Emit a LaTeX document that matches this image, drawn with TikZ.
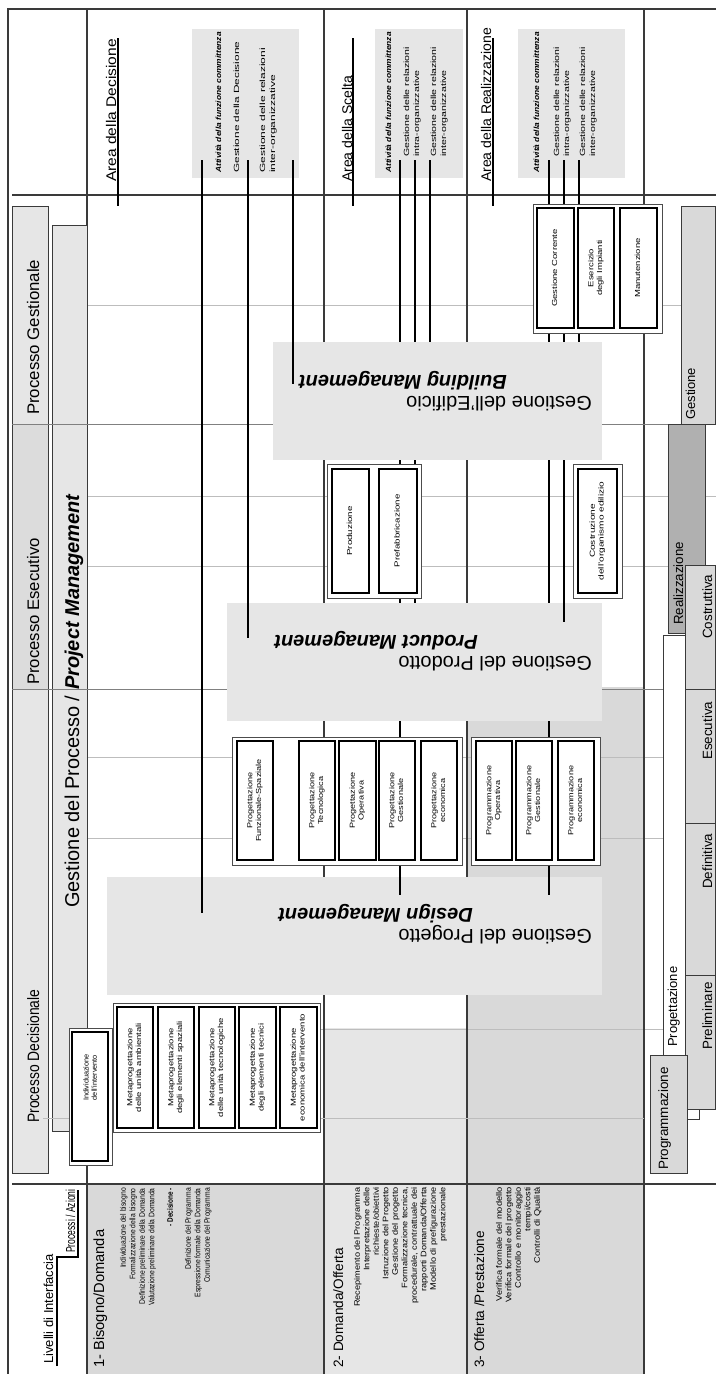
\documentclass[tikz,border=0pt]{standalone}
\usepackage{fontspec}
\setmainfont{Liberation Sans}
\usepackage{graphicx}
\definecolor{lgray}{HTML}{E6E6E6}
\definecolor{mgray}{HTML}{D9D9D9}
\definecolor{egray}{HTML}{DCDCDC}
\definecolor{dgray}{HTML}{B0B0B0}
\definecolor{gridc}{HTML}{BDBDBD}
\definecolor{pline}{HTML}{808080}
\definecolor{framec}{HTML}{3A3A3A}
\newcommand\fsz[2]{\fontsize{#1}{#2}\selectfont}
\newcommand\tx[3]{\scalebox{#1}[1]{\begin{tabular}{@{}#2@{}}#3\end{tabular}}}
% box given by its two page corners; text runs bottom to top
\newcommand\boxat[7]{%
  \pgfmathsetmacro\bxw{abs(#6-#4)}%
  \pgfmathsetmacro\bxh{abs(#5-#3)}%
  \node[rotate=90,#1,minimum width=\bxw pt,minimum height=\bxh pt] (#2) at ({(#3+#5)/2},{(#4+#6)/2}) {#7};}
\tikzset{
  vt/.style={rotate=90,inner sep=0pt},
  ut/.style={rotate=180,inner sep=0pt},
  frame/.style={draw=framec,line width=1.1pt},
  grid/.style={draw=gridc,line width=0.9pt},
  pl/.style={draw=pline,line width=1pt},
  conn/.style={draw=black,line width=1.1pt},
  pbox/.style={draw=framec,line width=1pt,inner sep=0pt},
  cont/.style={draw=black!70,line width=0.9pt,fill=white,inner sep=0pt},
  ibox/.style={draw=black,line width=1.1pt,fill=white,inner sep=0pt,font=\fsz{7.3}{8.6}},
  mgmt/.style={fill=lgray,inner sep=0pt},
  phase/.style={draw=framec,line width=0.9pt,inner sep=0pt},
}
\begin{document}
\begin{tikzpicture}[x=1pt,y=-1pt]
\useasboundingbox[fill=white] (0,0) rectangle (716,1374);

% ---- band backgrounds
\fill[mgray] (87,1184) rectangle (324,1374);
\fill[lgray] (324,1028) rectangle (467,1374);
\fill[mgray] (467,687) rectangle (644,1374);

% ---- grid
\foreach \y in {305,496,566,757,838,1029} \draw[grid] (87,\y) -- (716,\y);

% ---- frame and band separators
\draw[frame] (716,9) -- (8,9) -- (8,1374);
\draw[frame] (12,195) -- (716,195);
\draw[frame] (12,1184) -- (716,1184);
\foreach \x in {87,324,467,644} \draw[frame] (\x,9) -- (\x,1374);

% ---- process headers
\boxat{pbox,fill=lgray}{pg}{12.7}{206}{48}{424}{}
\boxat{pbox,fill=egray}{pe}{12.7}{424}{48}{689}{}
\boxat{pbox,fill=lgray}{pd}{12.7}{689}{48}{1173}{}
\boxat{pbox,fill=lgray}{gp}{52}{225}{87}{1131}{}
\draw[pl] (12,424) -- (716,424);
\draw[pl] (12,689) -- (716,689);
\draw[grid] (43,1118) -- (644,1118);

% ---- attivita boxes
\boxat{mgmt}{att1}{192}{29}{299}{178}{}
\boxat{mgmt}{att2}{375}{29}{463}{178}{}
\boxat{mgmt}{att3}{518}{29}{625}{178}{}

% ---- connectors running under the boxes
\coordinate (s400) at (400,160); \coordinate (e400) at (400,895);
\coordinate (s415) at (415,160); \coordinate (e415) at (415,603);
\coordinate (s430) at (430,160); \coordinate (e430) at (430,342);
\coordinate (s549) at (549,160); \coordinate (e549) at (549,895);
\coordinate (s564) at (564,160); \coordinate (e564) at (564,622);
\coordinate (s579) at (579,160); \coordinate (e579) at (579,342);
\foreach \n in {400,415,430,549,564,579} \draw[conn] (s\n) -- (e\n);

% ---- management boxes
\boxat{mgmt}{dm}{107}{877}{602}{995}{}
\boxat{mgmt}{pm}{227}{603}{602}{721}{}
\boxat{mgmt}{bm}{273}{342}{602}{460}{}

% ---- Individuazione
\boxat{cont}{indo}{69}{1028}{112}{1165}{}
\boxat{ibox}{ind}{72}{1032}{108}{1161}{}

% ---- Metaprogettazione
\boxat{cont}{metac}{113}{1003}{320}{1132}{}
\boxat{ibox}{m1}{117}{1007}{153}{1128}{\tx{1.3}{c}{Metaprogettazione\\delle unità ambientali}}
\boxat{ibox}{m2}{158}{1007}{194}{1128}{\tx{1.3}{c}{Metaprogettazione\\degli elementi spaziali}}
\boxat{ibox}{m3}{199}{1007}{235}{1128}{\tx{1.3}{c}{Metaprogettazione\\delle unità tecnologiche}}
\boxat{ibox}{m4}{239}{1007}{276}{1128}{\tx{1.3}{c}{Metaprogettazione\\degli elementi tecnici}}
\boxat{ibox}{m5}{280}{1007}{317}{1128}{\tx{1.3}{c}{Metaprogettazione\\economica dell'intervento}}

% ---- Progettazione
\boxat{cont}{progc}{232}{737}{462}{865}{}
\boxat{ibox}{p1}{237}{741}{273}{860}{\tx{1.25}{c}{Progettazione\\Funzionale-Spaziale}}
\boxat{ibox}{p2}{299}{741}{335}{860}{\tx{1.25}{c}{Progettazione\\Tecnologica}}
\boxat{ibox}{p3}{339}{741}{376}{860}{\tx{1.25}{c}{Progettazione\\Operativa}}
\boxat{ibox}{p4}{379}{741}{415}{860}{\tx{1.25}{c}{Progettazione\\Gestionale}}
\boxat{ibox}{p5}{421}{741}{457}{860}{\tx{1.25}{c}{Progettazione\\economica}}

% ---- Programmazione
\boxat{cont}{pragc}{471}{737}{600}{865}{}
\boxat{ibox}{q1}{476}{741}{512}{860}{\tx{1.25}{c}{Programmazione\\Operativa}}
\boxat{ibox}{q2}{516}{741}{552}{860}{\tx{1.25}{c}{Programmazione\\Gestionale}}
\boxat{ibox}{q3}{558}{741}{594}{860}{\tx{1.25}{c}{Programmazione\\economica}}

% ---- Produzione
\boxat{cont}{prodc}{327}{464}{421}{598}{}
\boxat{ibox}{r1}{332}{469}{369}{593}{\tx{1.33}{c}{Produzione}}
\boxat{ibox}{r2}{379}{469}{417}{593}{\tx{1.33}{c}{Prefabbricazione}}
\boxat{cont}{costc}{573}{464}{622}{598}{}
\boxat{ibox}{cost}{578}{469}{617}{593}{\tx{1.38}{c}{Costruzione\\dell'organismo edilizio}}

% ---- Gestione
\boxat{cont}{gcc}{533}{204}{662}{333}{}
\boxat{ibox}{g1}{537}{208}{574}{328}{\tx{1.3}{c}{Gestione Corrente}}
\boxat{ibox}{g2}{578}{208}{614}{328}{\tx{1.3}{c}{Esercizio\\degli Impianti}}
\boxat{ibox}{g3}{620}{208}{657}{328}{\tx{1.3}{c}{Manutenzione}}

% ---- phase bars
\boxat{phase,fill=mgray}{fges}{681}{206}{715.5}{424}{}
\boxat{phase,fill=dgray}{freal}{668}{424}{705}{633}{}
\boxat{phase,fill=white}{fprog}{663}{635}{699}{1119}{}
\boxat{phase,fill=mgray}{fcos}{685}{565}{715.5}{689}{}
\boxat{phase,fill=mgray}{fese}{685}{689}{715.5}{823}{}
\boxat{phase,fill=mgray}{fdef}{685}{823}{715.5}{975}{}
\boxat{phase,fill=mgray}{fpre}{685}{975}{715.5}{1109}{}
\boxat{phase,fill=mgray}{fpgm}{650}{1055}{687}{1173}{}

% ---- connectors drawn over the boxes
\coordinate (a1) at (202,160); \coordinate (b1) at (202,913);
\coordinate (a2) at (248,160); \coordinate (b2) at (248,638);
\coordinate (a3) at (293,160); \coordinate (b3) at (293,384);
\draw[conn] (a1) -- (b1);
\draw[conn] (a2) -- (b2);
\draw[conn] (a3) -- (b3);
\draw[conn] (400,877) -- (e400);
\draw[conn] (549,877) -- (e549);
\draw[conn] (564,603) -- (e564);

% ---- area underlines and header step
\draw[conn] (118,38) -- (118,206);
\draw[conn] (353,38) -- (353,206);
\draw[conn] (493,38) -- (493,206);
\draw[conn] (57,1366) -- (57,1257) -- (78,1257) -- (78,1190);

% ---- texts
\node[vt,anchor=base west,font=\fsz{16.8}{20}] (pgt) at (39,415) {Processo Gestionale};
\node[vt,anchor=base west,font=\fsz{16.7}{20}] (pet) at (39,685) {Processo Esecutivo};
\node[vt,anchor=base west,font=\fsz{16.5}{20}] (pdt) at (39,1123) {\scalebox{0.84}[1]{Processo Decisionale}};
\node[vt,anchor=base west,font=\fsz{20}{24}] (gpt) at (79,908) {Gestione del Processo / \textbf{\textit{Project Management}}};

\node[vt,anchor=east,font=\fsz{7.3}{8.3}] (indt) at (91,1054) {\tx{1.0}{c}{Individuazione\\dell'intervento}};

\node[ut,anchor=base west,font=\fsz{20}{24}] (dmt1) at (592,929) {Gestione del Progetto};
\node[ut,anchor=base west,font=\fsz{20}{24}\bfseries\itshape] (dmt2) at (473,908) {Design Management};
\node[ut,anchor=base west,font=\fsz{20}{24}] (pmt1) at (592,656) {Gestione del Prodotto};
\node[ut,anchor=base west,font=\fsz{20}{24}\bfseries\itshape] (pmt2) at (478,635) {Product Management};
\node[ut,anchor=base west,font=\fsz{20}{24}] (bmt1) at (592,396) {Gestione dell'Edificio};
\node[ut,anchor=base west,font=\fsz{20}{24}\bfseries\itshape] (bmt2) at (507,375) {Building Management};

\node[vt,anchor=base west,font=\fsz{13}{15}] (liv) at (53,1364) {Livelli di Interfaccia};
\node[vt,anchor=base west,font=\fsz{13}{15}] (proc) at (75,1253) {\scalebox{0.66}[1]{Processi / Azioni}};

\node[vt,anchor=base west,font=\fsz{14.7}{17}] (bt1) at (104,1368) {1- Bisogno/Domanda};
\node[vt,anchor=base west,font=\fsz{13.6}{16}] (bt2) at (343,1368) {2- Domanda/Offerta};
\node[vt,anchor=base west,font=\fsz{13.6}{16}] (bt3) at (484,1368) {3- Offerta /Prestazione};

\node[vt,anchor=north east,font=\fsz{8}{9.5}] (ac1) at (119,1188) {\tx{0.845}{r}{Individuazione del bisogno\\Formalizzazione della bisogno\\Definizione preliminare della Domanda\\Valutazione preliminare della Domanda}};
\node[vt,anchor=north east,font=\fsz{8}{9.5}] (ac2) at (166,1188) {\tx{0.8}{r}{\textbf{- Decisione -}}};
\node[vt,anchor=north east,font=\fsz{8}{9.5}] (ac3) at (184,1188) {\tx{0.845}{r}{Definizione del Programma\\Espressione formale della Domanda\\Comunicazione del Programma}};
\node[vt,anchor=north east,font=\fsz{8}{9.5}] (ac4) at (353,1187) {\tx{1.15}{r}{Recepimento del Programma\\Interpretazione delle\\richieste/obiettivi\\Istruzione del Progetto\\Gestione del  progetto\\Formalizzazione tecnica,\\procedurale, contrattuale dei\\rapporti Domanda/Offerta\\Modello di prefigurazione\\prestazionale}};
\node[vt,anchor=north east,font=\fsz{8}{9.5}] (ac5) at (495,1187) {\tx{1.16}{r}{Verifica formale del modello\\Verifica formale del progetto\\Controllo e monitoraggio\\tempi/costi\\Controlli di Qualità}};

\node[vt,anchor=base west,font=\fsz{14}{16}] (ad) at (116,182) {\scalebox{1.11}[1]{Area della Decisione}};
\node[vt,anchor=base west,font=\fsz{14}{16}] (as) at (352,182) {Area della Scelta};
\node[vt,anchor=base west,font=\fsz{14}{16}] (ar) at (491,182) {Area della Realizzazione};

\node[vt,anchor=base west,font=\fsz{7.5}{9}\bfseries\itshape] (t11) at (221,173) {\scalebox{1.12}[1]{Attività della funzione committenza}};
\node[vt,anchor=base west,font=\fsz{7.5}{9}] (t12) at (239,173) {\scalebox{1.58}[1]{Gestione della Decisione}};
\node[vt,anchor=north west,font=\fsz{7.5}{10}] (t13) at (258,173) {\tx{1.6}{l}{Gestione delle relazioni\\inter-organizzative}};
\node[vt,anchor=base west,font=\fsz{7.5}{9}\bfseries\itshape] (t21) at (391,173) {\scalebox{1.12}[1]{Attività della funzione committenza}};
\node[vt,anchor=north west,font=\fsz{7.5}{10}] (t22) at (402,157) {\tx{1.41}{l}{Gestione delle relazioni\\intra-organizzative}};
\node[vt,anchor=north west,font=\fsz{7.5}{10}] (t23) at (429,157) {\tx{1.41}{l}{Gestione delle relazioni\\inter-organizzative}};
\node[vt,anchor=base west,font=\fsz{7.5}{9}\bfseries\itshape] (t31) at (539,173) {\scalebox{1.12}[1]{Attività della funzione committenza}};
\node[vt,anchor=north west,font=\fsz{7.5}{10}] (t32) at (552,157) {\tx{1.41}{l}{Gestione delle relazioni\\intra-organizzative}};
\node[vt,anchor=north west,font=\fsz{7.5}{10}] (t33) at (578,157) {\tx{1.41}{l}{Gestione delle relazioni\\inter-organizzative}};

\node[vt,anchor=base west,font=\fsz{13}{15}] (tges) at (695,420) {Gestione};
\node[vt,anchor=base west,font=\fsz{13.3}{15}] (treal) at (683,625) {Realizzazione};
\node[vt,anchor=base west,font=\fsz{13}{15}] (tprog) at (677,1047) {Progettazione};
\node[vt,anchor=base west,font=\fsz{13.4}{15}] (tcos) at (712,639) {Costruttiva};
\node[vt,anchor=base west,font=\fsz{13.4}{15}] (tese) at (712,760) {Esecutiva};
\node[vt,anchor=base west,font=\fsz{13.4}{15}] (tdef) at (712,889) {Definitiva};
\node[vt,anchor=base west,font=\fsz{13.4}{15}] (tpre) at (712,1050) {Preliminare};
\node[vt,anchor=base west,font=\fsz{13.5}{15}] (tpgm) at (668,1170) {Programmazione};
\end{tikzpicture}
\end{document}
